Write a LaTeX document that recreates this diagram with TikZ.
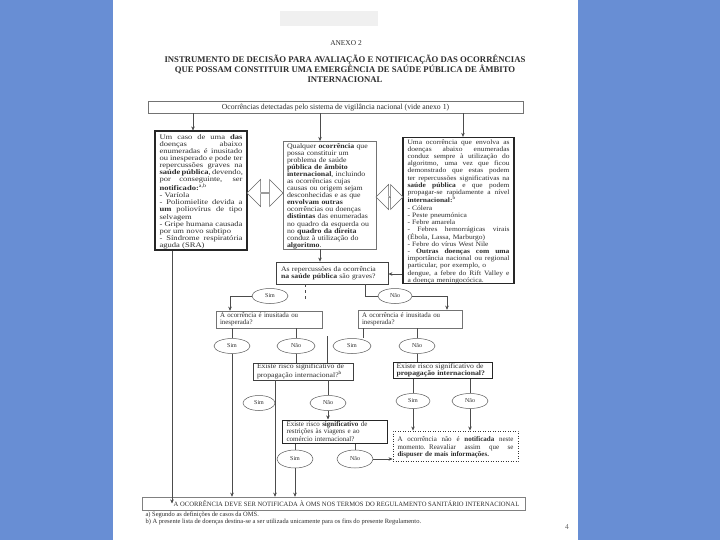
\documentclass[tikz,border=0pt]{standalone}
\usepackage{fontspec}
\setmainfont{Liberation Serif}
\newfontfamily\wideA{Liberation Serif}[FakeStretch=1.22]
\newfontfamily\wideB{Liberation Serif}[FakeStretch=1.12]
\usetikzlibrary{arrows.meta,shapes.geometric,shapes.arrows}
\definecolor{bgblue}{RGB}{104,142,212}
\definecolor{ink}{RGB}{45,45,45}
\newcommand\jl[2]{\par\noindent\hbox to #1{\spaceskip=0.25em plus 3em minus 0.08em\relax #2}\par}
\newcommand\rl[1]{\par\noindent\hbox{#1}\par}
\begin{document}
\begin{tikzpicture}[x=1pt,y=-1pt,
  txtA/.style={font=\wideA\fontsize{7}{7.1}\selectfont, text=ink},
  txtB/.style={font=\wideB\fontsize{6.7}{7.1}\selectfont, text=ink},
  txtM/.style={font=\wideB\fontsize{7}{7.07}\selectfont, text=ink},
  stxt/.style={font=\fontsize{6.9}{7.2}\selectfont, text=ink},
  wtxt/.style={font=\wideB\fontsize{6.9}{7.2}\selectfont, text=ink},
  bx/.style={rectangle, draw=black!55, line width=0.5pt, fill=white, inner sep=0pt},
  bxthick/.style={bx, draw=black!85, line width=1.1pt},
  ell/.style={ellipse, draw=black!65, line width=0.5pt, minimum width=34pt, minimum height=15pt, inner sep=0pt, font=\fontsize{6}{6.5}\selectfont, text=ink},
  con/.style={draw=black!70, line width=0.5pt},
  arr/.style={con, -{Stealth[length=4pt,width=3.5pt]}},
  darr/.style={double arrow, draw=black!60, line width=0.5pt, fill=white, inner sep=0pt, double arrow head extend=6pt},
]
\useasboundingbox (0,0) rectangle (720,540);
\fill[bgblue] (0,0) rectangle (720,540);
\fill[white] (113,0) rectangle (578,540);
\fill[black!6] (280,11) rectangle (378,26);

% title
\node[text=ink, font=\fontsize{7.4}{8}\selectfont] (anexo) at (346,43) {ANEXO 2};
\node[text=ink, font=\fontsize{8.7}{10}\bfseries, align=center] (title) at (345,69)
 {INSTRUMENTO DE DECISÃO PARA AVALIAÇÃO E NOTIFICAÇÃO DAS OCORRÊNCIAS\\QUE POSSAM CONSTITUIR UMA EMERGÊNCIA DE SAÚDE PÚBLICA DE ÂMBITO\\INTERNACIONAL};

% top box
\node[bx, minimum width=375pt, minimum height=12pt] (top) at (335.5,107) {};
\node[text=ink, font=\fontsize{7.7}{8}\selectfont] (toptext) at (335.5,107.5) {Ocorrências detectadas pelo sistema de vigilância nacional (vide anexo 1)};

% three boxes
\node[bxthick, minimum width=92pt, minimum height=119pt, text width=83pt, align=left, txtA] (left) at (201,190.5) {%
\jl{83pt}{Um caso de uma \textbf{das}}%
\jl{83pt}{doenças abaixo}%
\jl{83pt}{enumeradas é inusitado}%
\jl{83pt}{ou inesperado e pode ter}%
\jl{83pt}{repercussões graves na}%
\jl{83pt}{\textbf{saúde pública}, devendo,}%
\jl{83pt}{por conseguinte, ser}%
\rl{\textbf{notificado:}\textsuperscript{a,b}}%
\rl{- Varíola}%
\jl{83pt}{- Poliomielite devida a}%
\jl{83pt}{\textbf{um} poliovírus de tipo}%
\rl{selvagem}%
\jl{83pt}{- Gripe humana causada}%
\rl{por um novo subtipo}%
\jl{83pt}{- Síndrome respiratória}%
\rl{aguda (SRA)}};

\node[bx, minimum width=93pt, minimum height=106pt, text width=85pt, align=left, txtM] (mid) at (329.5,195) {%
\rl{Qualquer \textbf{ocorrência} que}%
\rl{possa constituir um}%
\rl{problema de saúde}%
\rl{\textbf{pública de âmbito}}%
\rl{\textbf{internacional}, incluindo}%
\rl{as ocorrências cujas}%
\rl{causas ou origem sejam}%
\rl{desconhecidas e as que}%
\rl{\textbf{envolvam outras}}%
\rl{ocorrências ou doenças}%
\rl{\textbf{distintas} das enumeradas}%
\rl{no quadro da esquerda ou}%
\rl{no \textbf{quadro da direita}}%
\rl{conduz à utilização do}%
\rl{\textbf{algoritmo}.}};

\node[bxthick, minimum width=111pt, minimum height=145pt, text width=102pt, align=left, txtB] (right) at (458.5,210.5) {%
\jl{102pt}{Uma ocorrência que envolva as}%
\jl{102pt}{doenças abaixo enumeradas}%
\jl{102pt}{conduz sempre à utilização do}%
\jl{102pt}{algoritmo, uma vez que ficou}%
\jl{102pt}{demonstrado que estas podem}%
\jl{102pt}{ter repercussões significativas na}%
\jl{102pt}{\textbf{saúde pública} e que podem}%
\jl{102pt}{propagar-se rapidamente a nível}%
\rl{\textbf{internacional:}\textsuperscript{b}}%
\rl{- Cólera}%
\rl{- Peste pneumónica}%
\rl{- Febre amarela}%
\jl{102pt}{- Febres hemorrágicas virais}%
\rl{(Ébola, Lassa, Marburgo)}%
\rl{- Febre do vírus West Nile}%
\jl{102pt}{- \textbf{Outras doenças com uma}}%
\jl{102pt}{importância nacional ou regional}%
\rl{particular, por exemplo, o}%
\jl{102pt}{dengue, a febre do Rift Valley e}%
\rl{a doença meningocócica.}};

\node[darr, minimum width=27pt, minimum height=36pt] (da1) at (265,193) {};
\node[darr, minimum width=25pt, minimum height=27pt] (da2) at (389.5,197) {};

% decision boxes
\node[bx, draw=black!75, line width=0.8pt, minimum width=112pt, minimum height=22pt, text width=102pt, align=left, wtxt] (grav) at (332,273) {As repercussões da ocorrência\\\textbf{na saúde pública} são graves?};
\node[bx, minimum width=106pt, minimum height=17pt, text width=98pt, align=left, stxt] (inuL) at (269,319.5) {A ocorrência é inusitada ou\\inesperada?};
\node[bx, minimum width=104pt, minimum height=18pt, text width=96pt, align=left, stxt] (inuR) at (410,319) {A ocorrência é inusitada ou\\inesperada?};
\node[bx, draw=black!75, line width=0.8pt, minimum width=100pt, minimum height=17pt, text width=92pt, align=left, wtxt] (riscoM) at (303,371.5) {Existe risco significativo de\\propagação internacional?\textsuperscript{b}};
\node[bxthick, line width=1pt, minimum width=99pt, minimum height=16pt, text width=92pt, align=left, wtxt] (riscoR) at (442.5,370) {Existe risco significativo de\\\textbf{propagação internacional?}};
\node[bxthick, line width=1pt, minimum width=105pt, minimum height=23pt, text width=96pt, align=left, stxt, font=\fontsize{7}{7.1}\selectfont] (restr) at (334.5,431.5) {Existe risco \textbf{significativo} de\\restrições às viagens e ao\\comércio internacional?};
\node[bx, draw=black!80, dotted, line width=0.9pt, minimum width=125pt, minimum height=30pt, text width=116pt, align=left, stxt, font=\fontsize{7}{7.6}\selectfont] (dot) at (455.5,446) {%
\jl{116pt}{A ocorrência não é \textbf{notificada} neste}%
\jl{116pt}{momento. Reavaliar assim que se}%
\rl{\textbf{dispuser de mais informações.}}};

% bottom box
\node[bx, draw=black!50, minimum width=383pt, minimum height=13pt] (bot) at (333.5,503.5) {};
\node[text=ink, font=\fontsize{6.6}{7}\selectfont] (bottext) at (346.5,504) {A OCORRÊNCIA DEVE SER NOTIFICADA À OMS NOS TERMOS DO REGULAMENTO SANITÁRIO INTERNACIONAL};

% ellipses
\node[ell, minimum width=36pt] (simA) at (270,296) {Sim};
\node[ell] (naoA) at (395,296) {Não};
\node[ell, minimum width=36pt] (simB) at (232,346) {Sim};
\node[ell, minimum width=38pt] (naoB) at (296,346) {Não};
\node[ell, minimum width=38pt] (simC) at (352,346) {Sim};
\node[ell, minimum width=36pt] (naoC) at (417,346) {Não};
\node[ell, minimum width=32pt] (simD) at (259,403) {Sim};
\node[ell, minimum width=36pt] (naoD) at (328,403) {Não};
\node[ell] (simE) at (413,401) {Sim};
\node[ell, minimum width=36pt] (naoE) at (470,401) {Não};
\node[ell, minimum width=36pt, minimum height=18pt] (simF) at (295,459) {Sim};
\node[ell, minimum width=36pt, minimum height=18pt] (naoF) at (355,459) {Não};

% connectors
\draw[arr] (top.south -| 193,0) -- (left.north -| 193,0);
\draw[arr] (top.south -| 320,0) -- (mid.north -| 320,0);
\draw[arr] (top.south -| 463,0) -- (right.north -| 463,0);
\draw[arr] (mid.south -| 320,0) -- (grav.north -| 320,0);
\draw[arr] (right.west |- 0,274) -- (grav.east |- 0,274);
\draw[arr] (left.south -| 172,0) -- (bot.center -| 172,0);

\draw[con, dashed] (grav.south -| 305,0) -- (305,299);
\draw[con] (grav.south -| 365,0) |- (naoA.west);
\draw[arr] (simA.west) -| (inuL.north -| 230,0);
\draw[arr] (naoA.east) -| (inuR.north -| 447,0);

\draw[con] (inuL.south -| simB.north) -- (simB.north);
\draw[con] (inuL.south -| naoB.north) -- (naoB.north);
\draw[con] (inuR.south -| 363,0) -- (simC.north -| 363,0);
\draw[con] (inuR.south -| naoC.north) -- (naoC.north);

\draw[arr] (simB.south) -- (bot.north -| simB.south);
\draw[con] (naoB.south) -- (riscoM.north -| naoB.south);
\draw[con] (327,336) -- (riscoM.north -| 327,0);
\draw[con] (naoC.south) -- (riscoR.north -| naoC.south);

\draw[arr] (riscoM.south -| 275,0) -- (bot.north -| 275,0);
\draw[con] (riscoM.south -| naoD.north) -- (naoD.north);
\draw[arr] (naoD.south) -- (restr.north -| naoD.south);
\draw[con] (riscoR.south -| simE.north) -- (simE.north);
\draw[con] (riscoR.south -| naoE.north) -- (naoE.north);
\draw[arr] (simE.south) -- (dot.north -| simE.south);
\draw[arr, line width=0.9pt] (naoE.south) -- (dot.north -| naoE.south);

\draw[con] (restr.south -| simF.north) -- (simF.north);
\draw[con] (restr.south -| naoF.north) -- (naoF.north);
\draw[arr] (simF.south) -- (bot.north -| simF.south);
\draw[arr] (naoF.east) -- (dot.west |- naoF.east);

% footnotes and page number
\node[text=ink, font=\fontsize{6.5}{7}\selectfont, anchor=west] (fna) at (142,514.5) {a) Segundo as definições de casos da OMS.};
\node[text=ink, font=\fontsize{6.5}{7}\selectfont, anchor=west] (fnb) at (142,521.5) {b) A presente lista de doenças destina-se a ser utilizada unicamente para os fins do presente Regulamento.};
\node[text=black!60, font=\fontsize{7.5}{8}\selectfont] (pg) at (567,527) {4};
\end{tikzpicture}
\end{document}
